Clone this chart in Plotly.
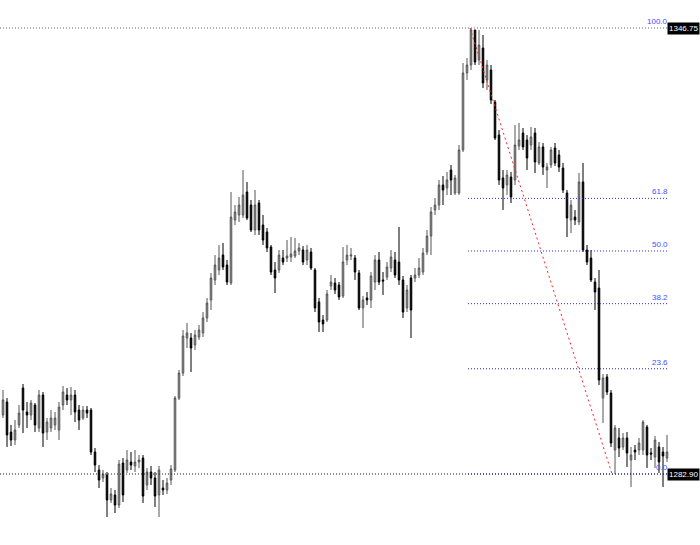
import plotly.graph_objects as go

opens = [1291.35, 1293.21, 1288.91, 1287.77, 1289.92, 1295.21, 1291.78, 1291.35, 1292.78, 1289.49,
         1294.21, 1288.91, 1289.49, 1289.92, 1289.20, 1292.78, 1294.21, 1293.50, 1294.21, 1292.06,
         1290.92, 1292.06, 1292.06, 1286.05, 1283.48, 1282.33, 1282.76, 1279.18, 1279.90, 1278.46,
         1284.48, 1283.48, 1284.62, 1284.05, 1284.62, 1285.19, 1281.33, 1283.19, 1282.33, 1279.90,
         1280.90, 1280.61, 1282.04, 1283.48, 1293.78, 1297.36, 1302.37, 1302.37, 1301.37, 1302.51,
         1303.09, 1305.24, 1307.81, 1310.68, 1312.11, 1314.25, 1312.82, 1310.25, 1319.26, 1319.98,
         1319.98, 1323.27, 1321.41, 1317.83, 1321.70, 1318.55, 1317.55, 1315.40, 1312.11, 1312.11,
         1313.82, 1313.82, 1313.97, 1314.11, 1314.83, 1314.97, 1313.54, 1314.68, 1312.11, 1307.53,
         1304.95, 1304.95, 1309.82, 1310.25, 1309.96, 1308.38, 1313.54, 1314.11, 1313.82, 1311.68,
         1306.67, 1308.10, 1307.81, 1310.39, 1313.54, 1310.68, 1311.10, 1312.39, 1313.54, 1313.25,
         1310.68, 1306.67, 1310.96, 1310.96, 1311.39, 1311.82, 1314.68, 1316.97, 1320.70, 1321.41,
         1324.28, 1323.85, 1326.42, 1323.13, 1323.13, 1329.29, 1340.31, 1341.45, 1346.47, 1342.17,
         1343.89, 1339.31, 1340.74, 1336.16, 1331.43, 1325.28, 1324.28, 1325.42, 1324.99, 1329.86,
         1331.72, 1330.72, 1330.00, 1331.72, 1327.43, 1329.72, 1326.42, 1327.14, 1329.57, 1328.57,
         1326.71, 1323.13, 1319.26, 1319.69, 1318.98, 1324.71, 1314.97, 1313.82, 1310.39, 1309.53,
         1293.78, 1296.79, 1294.50, 1286.34, 1288.06, 1286.77, 1288.06, 1284.91, 1286.34, 1286.34,
         1286.34, 1289.63, 1285.91, 1285.34, 1286.77, 1286.05, 1285.19]

highs = [1294.93, 1293.78, 1289.92, 1290.63, 1292.78, 1295.79, 1293.21, 1293.50, 1293.07, 1294.93,
         1294.64, 1290.92, 1292.06, 1291.78, 1293.21, 1295.50, 1295.21, 1295.36, 1294.93, 1292.78,
         1292.64, 1292.64, 1292.35, 1286.62, 1284.19, 1283.48, 1283.19, 1280.90, 1280.61, 1284.91,
         1285.19, 1286.34, 1286.05, 1286.34, 1285.62, 1285.62, 1283.76, 1284.05, 1283.19, 1284.05,
         1282.04, 1282.33, 1284.19, 1294.07, 1297.79, 1303.52, 1304.52, 1303.09, 1303.52, 1304.23,
         1306.09, 1308.10, 1311.68, 1314.25, 1315.69, 1315.97, 1313.54, 1323.27, 1321.41, 1322.56,
         1326.42, 1324.71, 1322.13, 1323.56, 1322.13, 1319.98, 1318.12, 1315.69, 1313.25, 1314.97,
         1314.97, 1316.40, 1316.83, 1316.69, 1315.97, 1315.54, 1315.69, 1315.26, 1312.39, 1308.10,
         1305.66, 1309.24, 1311.39, 1310.96, 1310.39, 1315.40, 1315.69, 1315.26, 1314.25, 1312.11,
         1308.38, 1308.96, 1311.82, 1314.25, 1314.68, 1311.82, 1313.25, 1314.97, 1314.68, 1318.26,
         1311.25, 1309.96, 1311.39, 1312.39, 1313.82, 1315.26, 1317.83, 1321.13, 1322.41, 1324.99,
         1325.56, 1326.14, 1327.14, 1325.71, 1330.00, 1341.74, 1342.46, 1346.75, 1346.47, 1346.47,
         1345.75, 1342.17, 1341.45, 1336.44, 1332.15, 1326.42, 1326.42, 1326.14, 1332.87, 1333.15,
         1332.44, 1331.43, 1332.58, 1332.44, 1330.43, 1330.29, 1327.43, 1329.72, 1330.29, 1329.29,
         1327.43, 1323.56, 1322.13, 1320.70, 1325.99, 1327.43, 1315.69, 1314.97, 1310.96, 1312.11,
         1297.22, 1297.22, 1294.93, 1289.92, 1289.49, 1288.77, 1288.91, 1286.77, 1287.05, 1288.06,
         1290.63, 1289.92, 1286.62, 1288.34, 1287.48, 1286.77, 1288.49]

lows = [1290.92, 1286.77, 1286.91, 1287.05, 1289.49, 1288.77, 1289.49, 1290.63, 1288.91, 1288.91,
        1286.77, 1287.77, 1288.91, 1289.20, 1287.77, 1292.06, 1292.78, 1291.35, 1290.35, 1289.20,
        1290.63, 1290.92, 1285.62, 1283.19, 1280.90, 1281.76, 1276.75, 1278.75, 1277.32, 1278.03,
        1278.89, 1283.05, 1283.48, 1283.19, 1283.76, 1278.75, 1280.61, 1281.33, 1278.18, 1276.75,
        1279.90, 1280.04, 1281.33, 1283.19, 1293.50, 1296.93, 1300.94, 1297.50, 1300.65, 1302.09,
        1302.51, 1304.66, 1306.38, 1309.96, 1311.39, 1312.11, 1309.96, 1309.96, 1318.55, 1318.98,
        1319.55, 1319.26, 1317.55, 1317.12, 1317.12, 1315.69, 1314.68, 1311.39, 1308.81, 1311.68,
        1312.82, 1313.25, 1313.25, 1313.82, 1314.25, 1312.82, 1312.82, 1312.11, 1306.09, 1303.23,
        1303.23, 1304.66, 1309.24, 1308.67, 1307.81, 1308.10, 1312.82, 1313.54, 1310.68, 1306.38,
        1303.80, 1307.10, 1306.67, 1309.24, 1309.96, 1308.53, 1310.68, 1311.82, 1310.96, 1309.96,
        1305.24, 1306.09, 1302.37, 1310.39, 1310.96, 1311.39, 1314.25, 1314.25, 1319.98, 1320.70,
        1321.41, 1322.84, 1322.84, 1322.84, 1322.84, 1329.00, 1339.31, 1340.74, 1341.45, 1341.45,
        1338.16, 1337.88, 1335.87, 1330.72, 1324.28, 1320.70, 1322.84, 1321.70, 1324.28, 1329.29,
        1329.29, 1326.42, 1329.29, 1325.99, 1327.14, 1325.71, 1323.85, 1326.71, 1327.00, 1326.14,
        1323.13, 1316.83, 1317.40, 1318.55, 1318.55, 1314.68, 1312.82, 1310.39, 1306.38, 1295.64,
        1290.20, 1294.21, 1286.77, 1282.90, 1285.34, 1286.34, 1283.90, 1281.04, 1284.91, 1285.62,
        1285.62, 1283.76, 1284.91, 1283.76, 1283.05, 1281.04, 1284.62]

closes = [1293.50, 1288.49, 1287.77, 1289.20, 1291.63, 1292.06, 1291.35, 1293.07, 1289.92, 1294.21,
          1288.77, 1290.35, 1290.92, 1290.92, 1292.49, 1294.64, 1293.50, 1294.21, 1291.78, 1290.63,
          1292.06, 1291.63, 1286.05, 1284.19, 1282.04, 1282.90, 1279.18, 1280.04, 1278.46, 1284.33,
          1279.90, 1284.91, 1284.19, 1284.62, 1284.91, 1279.75, 1283.19, 1282.33, 1279.75, 1283.48,
          1280.61, 1281.61, 1283.62, 1293.78, 1297.36, 1302.66, 1303.09, 1300.94, 1302.80, 1303.52,
          1305.24, 1307.38, 1310.96, 1312.82, 1313.82, 1312.54, 1310.39, 1319.69, 1320.41, 1321.41,
          1322.84, 1319.55, 1317.83, 1321.41, 1317.83, 1316.40, 1315.26, 1311.82, 1310.96, 1314.25,
          1313.25, 1314.11, 1314.40, 1314.83, 1315.26, 1313.25, 1314.97, 1312.39, 1306.67, 1304.66,
          1304.38, 1308.67, 1310.39, 1309.24, 1308.24, 1313.25, 1314.25, 1314.25, 1311.82, 1306.67,
          1307.81, 1307.81, 1311.25, 1313.54, 1310.39, 1310.53, 1312.54, 1313.97, 1311.39, 1310.68,
          1306.09, 1309.24, 1306.38, 1311.39, 1312.39, 1314.54, 1316.97, 1320.41, 1321.41, 1324.28,
          1323.56, 1324.99, 1324.99, 1325.28, 1329.29, 1340.31, 1341.45, 1346.47, 1341.88, 1344.32,
          1338.88, 1341.45, 1336.44, 1331.00, 1324.99, 1323.85, 1325.71, 1322.56, 1330.00, 1330.72,
          1329.72, 1328.14, 1331.15, 1327.57, 1329.72, 1326.85, 1326.85, 1329.29, 1327.43, 1326.85,
          1323.56, 1319.55, 1321.41, 1319.26, 1324.71, 1314.97, 1313.25, 1310.68, 1308.96, 1296.36,
          1296.65, 1294.64, 1287.34, 1289.49, 1286.62, 1288.06, 1285.91, 1285.62, 1286.05, 1287.34,
          1290.35, 1285.62, 1285.77, 1287.77, 1284.62, 1285.48, 1286.05]

fib_levels = [0.0, 23.6, 38.2, 50.0, 61.8, 100.0]
fib_high = 1346.75
fib_low = 1282.90
fib_anchor_idx = [117, 153]
price_labels = ["1346.75", "1282.90"]

n = len(opens)
xs = list(range(n))
x_lo, x_hi = -0.75, 174.25
y_lo, y_hi = 1272.74, 1350.76

fig = go.Figure()
fig.add_trace(go.Candlestick(
    x=xs, open=opens, high=highs, low=lows, close=closes,
    increasing=dict(line=dict(color="#555555", width=1), fillcolor="#a8a8a8"),
    decreasing=dict(line=dict(color="#000000", width=1), fillcolor="#000000"),
    whiskerwidth=0, showlegend=False, hoverinfo="skip"))

fib_x0 = fib_anchor_idx[0] - 0.75
fib_x1 = n - 0.75
dot = "1px,2px"

# full-width horizontal lines at the fib extremes
fig.add_shape(type="line", xref="x", yref="y", x0=x_lo, x1=fib_x1, y0=fib_high, y1=fib_high,
              line=dict(color="#6a6a6a", width=1, dash=dot))
fig.add_shape(type="line", xref="x", yref="y", x0=x_lo, x1=fib_x1, y0=fib_low, y1=fib_low,
              line=dict(color="#1a1a2a", width=1, dash=dot))

for lvl in fib_levels:
    price = fib_low + (fib_high - fib_low) * lvl / 100.0
    col = "#2424a0" if lvl in (0.0, 23.6) else "#3030ee"
    if lvl not in (100.0,):
        fig.add_shape(type="line", xref="x", yref="y", x0=fib_x0, x1=fib_x1, y0=price, y1=price,
                      line=dict(color=col, width=1, dash=dot))
    fig.add_annotation(x=fib_x1, y=price, xref="x", yref="y", text=f"{lvl:.1f}",
                       showarrow=False, xanchor="right", yanchor="bottom", xshift=2,
                       font=dict(family="Liberation Sans, Arial, sans-serif", size=8, color="#4a4aff"))

# trend line from high to low anchor
fig.add_shape(type="line", xref="x", yref="y",
              x0=fib_anchor_idx[0] - 0.25, y0=fib_high, x1=fib_anchor_idx[1] - 0.75, y1=fib_low,
              line=dict(color="#ff2020", width=1, dash="2px,3px"))

for txt, price in zip(price_labels, [fib_high, fib_low]):
    fig.add_annotation(x=1, y=price, xref="paper", yref="y", text=txt, showarrow=False,
                       xanchor="right", yanchor="middle", bgcolor="#000000", borderpad=1,
                       font=dict(family="Liberation Sans, Arial, sans-serif", size=8, color="#ffffff"))

fig.update_layout(
    width=700, height=545, margin=dict(l=0, r=0, t=0, b=0),
    paper_bgcolor="#ffffff", plot_bgcolor="#ffffff",
    xaxis=dict(range=[x_lo, x_hi], visible=False, rangeslider=dict(visible=False), fixedrange=True),
    yaxis=dict(range=[y_lo, y_hi], visible=False, fixedrange=True),
    showlegend=False,
    boxgap=0.45,
)

fig.write_html("out.html", config={"displayModeBar": False},
               post_script="document.body.style.margin='0';document.body.style.overflow='hidden';")
